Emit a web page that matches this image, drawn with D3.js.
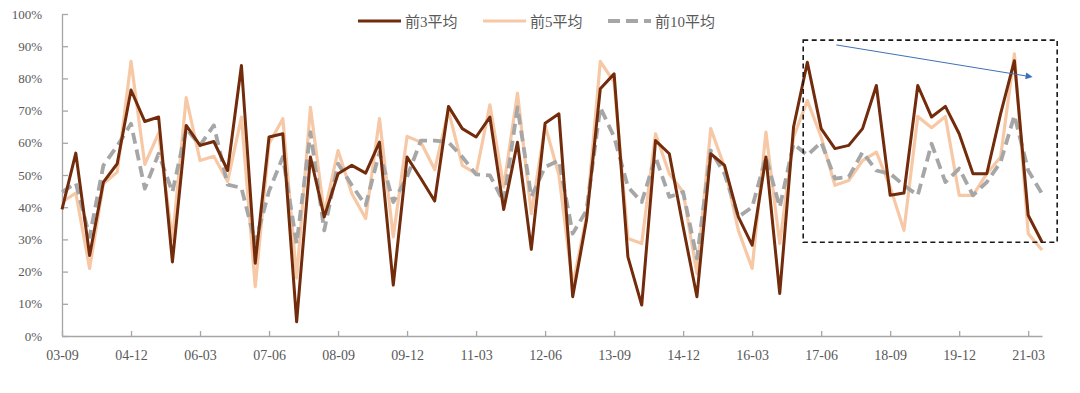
<!DOCTYPE html>
<html><head><meta charset="utf-8">
<script src="https://cdn.jsdelivr.net/npm/d3@7"></script>
<style>body{margin:0;background:#fff}svg{display:block}</style>
</head><body><svg id="c" width="1080" height="393"></svg>
<script>
const categories = ["03-09","03-12","04-03","04-06","04-09","04-12","05-03","05-06","05-09","05-12",
"06-03","06-06","06-09","06-12","07-03","07-06","07-09","07-12","08-03","08-06","08-09","08-12",
"09-03","09-06","09-09","09-12","10-03","10-06","10-09","10-12","11-03","11-06","11-09","11-12",
"12-03","12-06","12-09","12-12","13-03","13-06","13-09","13-12","14-03","14-06","14-09","14-12",
"15-03","15-06","15-09","15-12","16-03","16-06","16-09","16-12","17-03","17-06","17-09","17-12",
"18-03","18-06","18-09","18-12","19-03","19-06","19-09","19-12","20-03","20-06","20-09","20-12",
"21-03","21-06"];
const tickLabels = ["03-09","04-12","06-03","07-06","08-09","09-12","11-03","12-06","13-09","14-12","16-03","17-06","18-09","19-12","21-03"];
const yTicks = [0,10,20,30,40,50,60,70,80,90,100];
const avg3 = [39.3,56.8,25,47.8,53.5,76.4,66.6,68,23,65.4,59.2,60.4,51.4,84,22.6,61.8,62.8,4.4,55.6,37,
50.4,53,50.6,60.2,15.8,55.6,48.9,41.9,71.3,64.4,61.8,68,39.3,60.2,26.9,66.1,69,12.2,36,76.8,
81.4,24.6,9.6,60.7,56.6,33.9,12.2,56.6,53,37,28.2,55.6,13.2,64.9,85,64.4,58.2,59.2,64.4,77.8,
43.7,44.4,77.8,68,71.3,62.8,50.4,50.4,69,85.5,37.5,29.2];
const avg5 = [41.6,44.4,21,47.3,50.9,85.3,53.3,63,29.8,74,54.5,55.8,48,68,15.3,59.7,67.5,18,71,38,
57.6,44.2,36.5,67.5,30.8,62,60.2,51.7,70,53,50.4,71.8,46.3,75.4,38,65.4,50,15.8,37,85.3,
78.8,30.3,28.7,62.8,50.4,44.7,19.4,64.4,52.5,32.8,21,63.3,28.7,61.8,73.1,61.8,46.8,48.3,54.5,57.1,
46.3,32.8,68.2,64.7,68.2,43.7,43.7,50.4,55.6,87.6,31.8,26.7];
const avg10 = [44.7,47.5,30.8,53,59,65.9,45.8,56.6,44.7,64.4,59.2,65.4,47,46,29,45,55.6,28.7,63.3,32.8,
53.5,46.8,40.6,57.1,41.6,49.4,60.7,60.7,60.2,55.6,50.2,49.9,41.6,71,43.2,52.5,54.5,31.8,39,71,
61.8,46.3,41.6,55.6,43.2,44.7,24.1,57.6,50.4,37,40,55.6,40,59.7,56.1,60.2,48.9,49.4,57.1,51.4,
50.4,46.8,43.7,59.7,47.8,52,43.7,47.8,54,68.5,51.4,44.2];
const seriesNames = ["前3平均","前5平均","前10平均"];
// annotation box and arrow, in data units (category index, percent)
const boxIdx = [53.7, 72.1], boxPct = [29.1, 91.9];
const arrowIdx = [56.1, 70.5], arrowPct = [90.4, 80.3];

const svg = d3.select("#c");
const L = 62, R = 1042, T = 14, B = 336;
const x = d3.scalePoint().domain(categories).range([L, R]).padding(0);
const xi = d3.scaleLinear().domain([0, categories.length - 1]).range([L, R]);
const y = d3.scaleLinear().domain([0, 100]).range([B, T]);
const axisCol = "#A6A6A6", textCol = "#595959";
const numFont = "'Liberation Serif','Times New Roman',serif";

// y axis
const ya = svg.append("g").attr("transform", `translate(${L},0)`)
  .call(d3.axisLeft(y).tickValues(yTicks).tickFormat(d => d + "%").tickSizeInner(-6).tickSizeOuter(0).tickPadding(20));
ya.select(".domain").attr("stroke", axisCol).attr("stroke-width", 1.3);
ya.selectAll(".tick line").attr("stroke", axisCol).attr("stroke-width", 1.3);
ya.selectAll("text").attr("fill", textCol).attr("font-family", numFont).attr("font-size", 13);

// x axis
const xa = svg.append("g").attr("transform", `translate(0,${B})`)
  .call(d3.axisBottom(x).tickValues(tickLabels).tickSizeInner(-5).tickSizeOuter(0).tickPadding(14));
xa.select(".domain").attr("stroke", axisCol).attr("stroke-width", 1.3);
xa.selectAll(".tick line").attr("stroke", axisCol).attr("stroke-width", 1.3);
xa.selectAll("text").attr("fill", textCol).attr("font-family", numFont).attr("font-size", 14);

const line = d3.line().x((d, i) => x(categories[i])).y(d => y(d));
const styles = [
  {data: avg5, color: "#F6C8A5", w: 3.2, dash: null},
  {data: avg10, color: "#A6A6A6", w: 3.8, dash: "11,6"},
  {data: avg3, color: "#722B0B", w: 3, dash: null}
];
styles.forEach(s => {
  svg.append("path").datum(s.data).attr("d", line).attr("fill", "none")
    .attr("stroke", s.color).attr("stroke-width", s.w).attr("stroke-linejoin", "round")
    .attr("stroke-dasharray", s.dash);
});

// annotation box
svg.append("rect").attr("x", xi(boxIdx[0])).attr("y", y(boxPct[1]))
  .attr("width", xi(boxIdx[1]) - xi(boxIdx[0])).attr("height", y(boxPct[0]) - y(boxPct[1]))
  .attr("fill", "none").attr("stroke", "#1a1a1a").attr("stroke-width", 1.6).attr("stroke-dasharray", "5,3.5");
// arrow
svg.append("defs").append("marker").attr("id", "ah").attr("viewBox", "0 0 10 10")
  .attr("refX", 2).attr("refY", 5).attr("markerWidth", 9).attr("markerHeight", 7).attr("markerUnits", "userSpaceOnUse")
  .attr("orient", "auto").append("path").attr("d", "M0,0L10,5L0,10z").attr("fill", "#3E70B8");
svg.append("line").attr("x1", xi(arrowIdx[0])).attr("y1", y(arrowPct[0]))
  .attr("x2", xi(arrowIdx[1]) - 8).attr("y2", y(arrowPct[1]) - 1.3)
  .attr("stroke", "#3E70B8").attr("stroke-width", 1).attr("marker-end", "url(#ah)");

// legend
const legX = [358, 483, 608];
const legCols = ["#722B0B", "#F6C8A5", "#A6A6A6"];
const legDash = [null, null, "12,6"];
seriesNames.forEach((n, i) => {
  svg.append("line").attr("x1", legX[i]).attr("x2", legX[i] + 43).attr("y1", 21).attr("y2", 21)
    .attr("stroke", legCols[i]).attr("stroke-width", i === 2 ? 3.8 : 3).attr("stroke-dasharray", legDash[i]);
  svg.append("text").attr("x", legX[i] + 47).attr("y", 26.5).text(n)
    .attr("fill", textCol).attr("font-size", 15)
    .attr("font-family", "'Liberation Serif','Noto Sans CJK SC',serif");
});
</script></body></html>
